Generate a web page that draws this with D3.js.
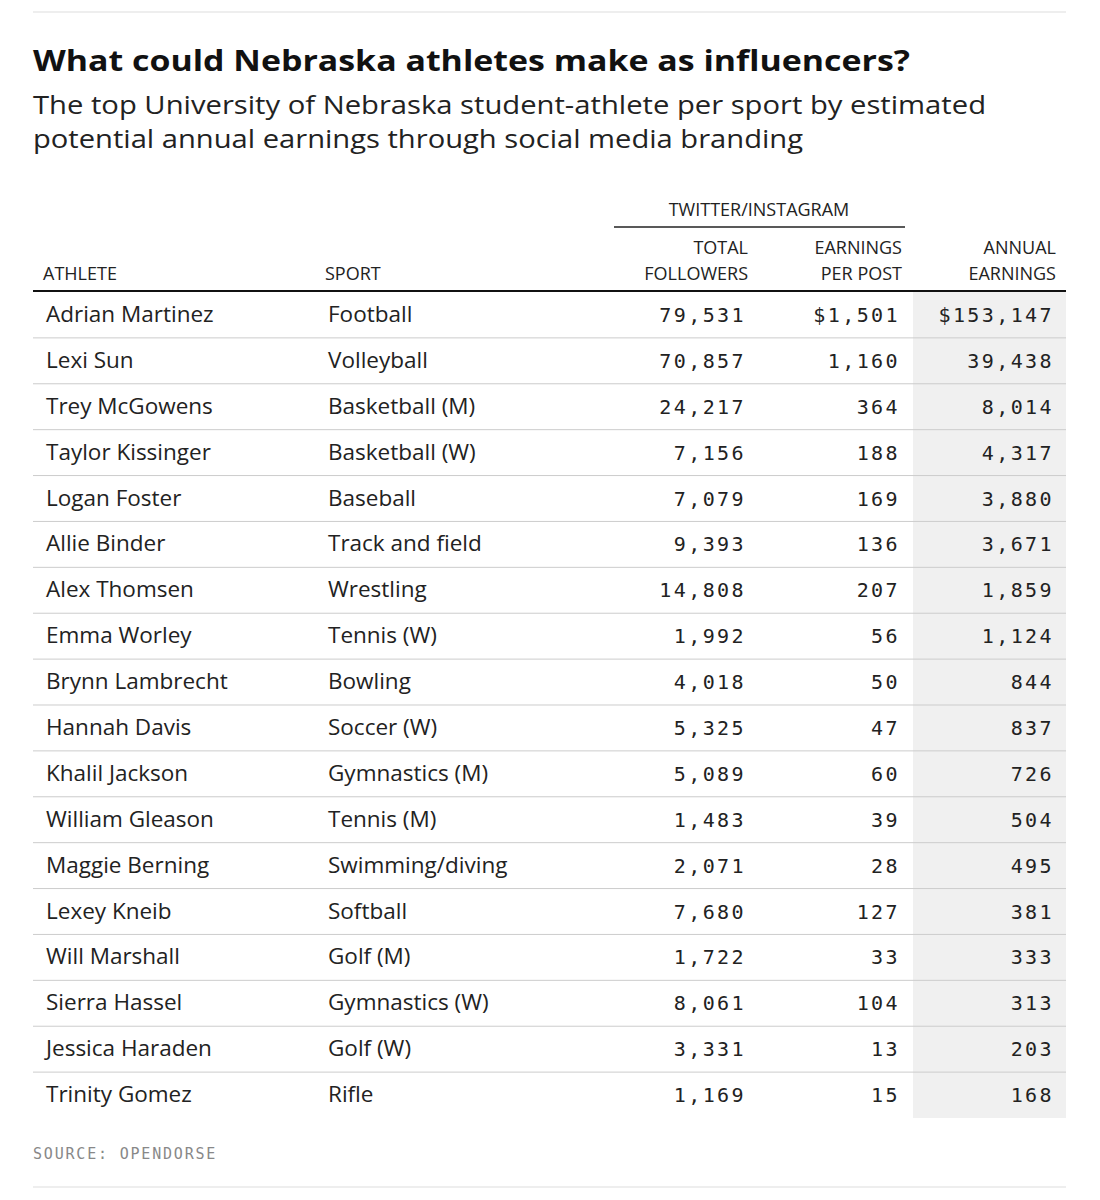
<!DOCTYPE html>
<html><head><meta charset="utf-8">
<script src="https://cdn.jsdelivr.net/npm/d3@7"></script>
<style>body{margin:0;background:#fff}</style>
</head><body><div id="chart"></div>
<script>
var athletes = ["Adrian Martinez","Lexi Sun","Trey McGowens","Taylor Kissinger","Logan Foster","Allie Binder","Alex Thomsen","Emma Worley","Brynn Lambrecht","Hannah Davis","Khalil Jackson","William Gleason","Maggie Berning","Lexey Kneib","Will Marshall","Sierra Hassel","Jessica Haraden","Trinity Gomez"]
var sports = ["Football","Volleyball","Basketball (M)","Basketball (W)","Baseball","Track and field","Wrestling","Tennis (W)","Bowling","Soccer (W)","Gymnastics (M)","Tennis (M)","Swimming/diving","Softball","Golf (M)","Gymnastics (W)","Golf (W)","Rifle"]
var followers = [79531,70857,24217,7156,7079,9393,14808,1992,4018,5325,5089,1483,2071,7680,1722,8061,3331,1169]
var perPost = [1501,1160,364,188,169,136,207,56,50,47,60,39,28,127,33,104,13,15]
var annual = [153147,39438,8014,4317,3880,3671,1859,1124,844,837,726,504,495,381,333,313,203,168]

var W = 1100, H = 1200, L = 33, R = 1066
var svg = d3.select('#chart').append('svg').attr('width', W).attr('height', H)
var sans = '"Open Sans", Roboto, sans-serif', mono = '"DejaVu Sans Mono", monospace'

svg.append('line').attr('x1', L).attr('x2', R).attr('y1', 12).attr('y2', 12).attr('stroke', '#ddd')
svg.append('line').attr('x1', L).attr('x2', R).attr('y1', 1187).attr('y2', 1187).attr('stroke', '#ddd')
svg.append('text').attr('x', L).attr('y', 71).attr('font-family', sans).attr('font-weight', 'bold')
  .attr('font-size', 29).attr('fill', '#111').attr('textLength', 877).attr('lengthAdjust', 'spacingAndGlyphs')
  .text('What could Nebraska athletes make as influencers?')
var sub = ['The top University of Nebraska student-athlete per sport by estimated', 'potential annual earnings through social media branding']
var subLen = [953, 770]
sub.forEach(function(s, i){
  svg.append('text').attr('x', L).attr('y', 114 + i*34).attr('font-family', sans)
    .attr('font-size', 25).attr('fill', '#222').attr('textLength', subLen[i]).attr('lengthAdjust', 'spacingAndGlyphs').text(s)
})

var y = d3.scaleBand().domain(d3.range(athletes.length)).range([292, 1118])
var fmt = d3.format(',')

svg.append('rect').attr('x', 913).attr('y', 292).attr('width', R - 913).attr('height', 1118 - 292).attr('fill', '#f0f0f0')

// header
var hdr = svg.append('g').attr('font-family', sans).attr('font-size', 18).attr('fill', '#222')
hdr.append('text').attr('x', 759).attr('y', 216).attr('text-anchor', 'middle').text('TWITTER/INSTAGRAM')
svg.append('line').attr('x1', 614).attr('x2', 905).attr('y1', 227).attr('y2', 227).attr('stroke', '#222').attr('stroke-width', 1.5)
hdr.append('text').attr('x', 43).attr('y', 280).text('ATHLETE')
hdr.append('text').attr('x', 325).attr('y', 280).text('SPORT')
var rh = [[748, 'TOTAL', 'FOLLOWERS'], [902, 'EARNINGS', 'PER POST'], [1056, 'ANNUAL', 'EARNINGS']]
rh.forEach(function(h){
  hdr.append('text').attr('x', h[0]).attr('y', 254).attr('text-anchor', 'end').text(h[1])
  hdr.append('text').attr('x', h[0]).attr('y', 280).attr('text-anchor', 'end').text(h[2])
})
svg.append('line').attr('x1', L).attr('x2', R).attr('y1', 291).attr('y2', 291).attr('stroke', '#111').attr('stroke-width', 2)

var rows = svg.selectAll('g.row').data(athletes).enter().append('g').attr('class', 'row')
  .attr('transform', function(d, i){ return 'translate(0,' + y(i) + ')' })
rows.filter(function(d, i){ return i < athletes.length - 1 }).append('line')
  .attr('x1', L).attr('x2', R).attr('y1', y.bandwidth()).attr('y2', y.bandwidth()).attr('stroke', '#ccc')
rows.append('text').attr('x', 46).attr('y', 30).attr('font-family', sans).attr('font-size', 22.5).attr('fill', '#222').text(function(d){ return d })
rows.append('text').attr('x', 328).attr('y', 30).attr('font-family', sans).attr('font-size', 22.5).attr('fill', '#222').text(function(d, i){ return sports[i] })
function num(x, arr, dollar){
  rows.append('text').attr('x', x).attr('y', 30).attr('text-anchor', 'end').attr('font-family', mono)
    .attr('font-size', 20).attr('fill', '#222').attr('letter-spacing', 2.4)
    .text(function(d, i){ return (dollar && i === 0 ? '$' : '') + fmt(arr[i]) })
}
num(746, followers, false)
num(900, perPost, true)
num(1054, annual, true)

svg.append('text').attr('x', L).attr('y', 1159).attr('font-family', mono).attr('font-size', 15)
  .attr('fill', '#888').attr('letter-spacing', 1.8).text('SOURCE: OPENDORSE')
</script></body></html>
